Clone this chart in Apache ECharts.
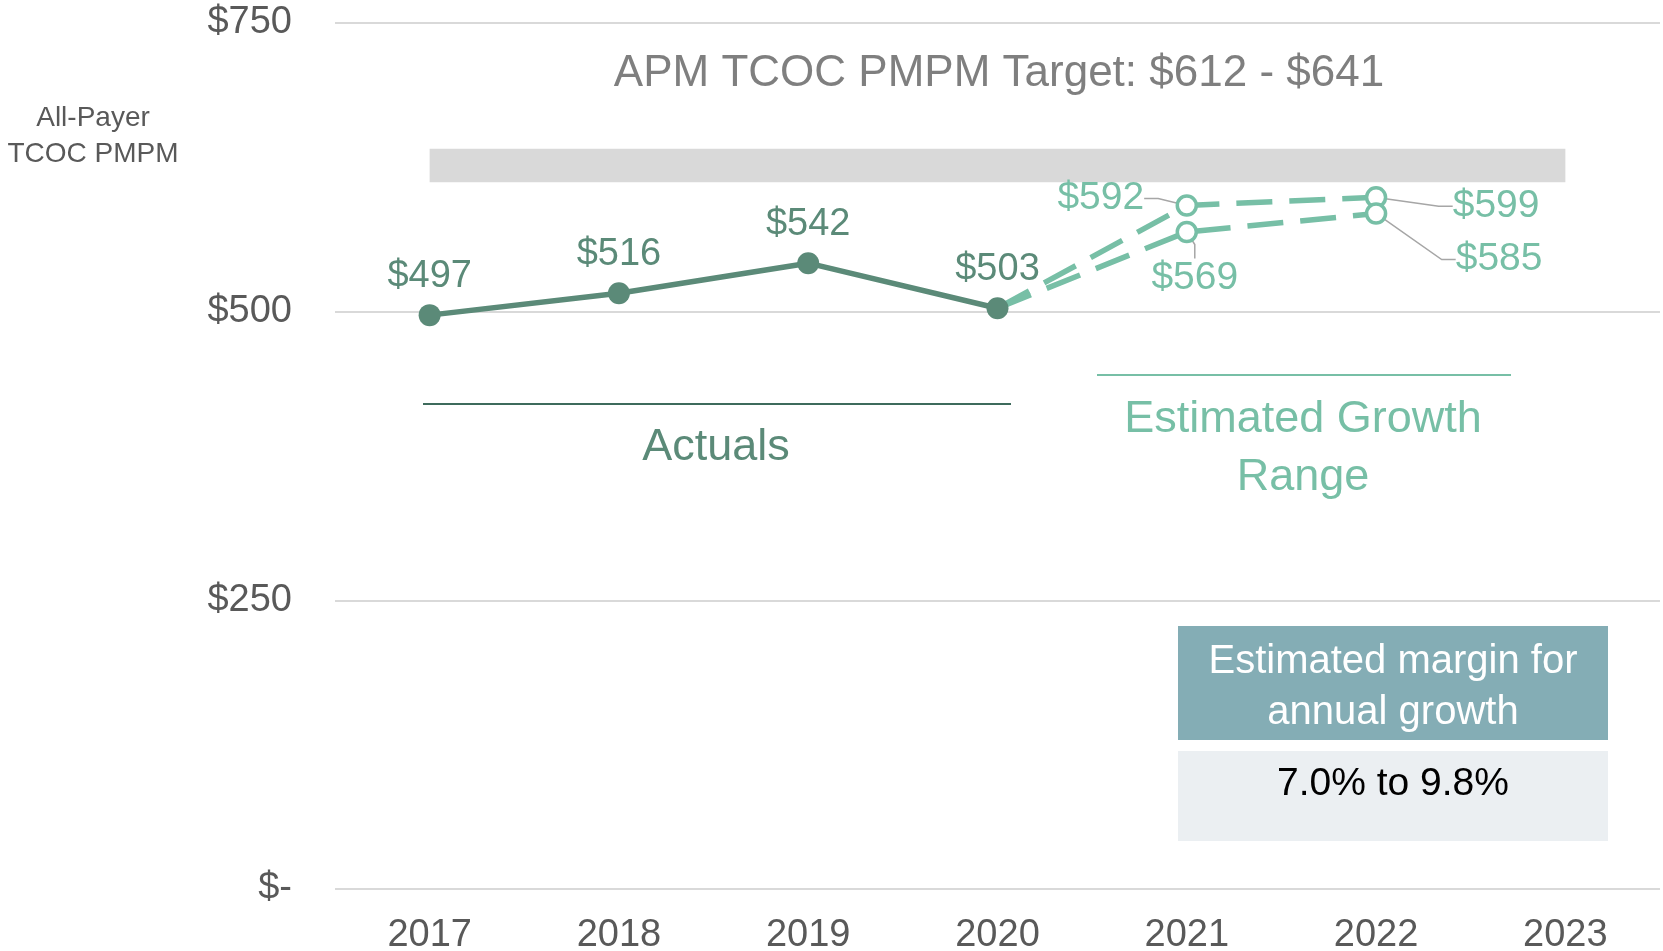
<!DOCTYPE html>
<html>
<head>
    <meta charset="utf-8">
    <title>TCOC PMPM</title>
    <script src="https://cdn.jsdelivr.net/npm/echarts@6/dist/echarts.min.js"></script>
    <style>
        html, body { margin: 0; padding: 0; background: #fff; }
        #main { width: 1663px; height: 951px; }
    </style>
</head>
<body>
    <div id="main"></div>
    <script type="text/javascript">
        // data
        var years = ['2017', '2018', '2019', '2020', '2021', '2022', '2023'];
        var actuals = [497, 516, 542, 503, '-', '-', '-'];
        var highGrowth = ['-', '-', '-', 503, 592, 599, '-'];
        var lowGrowth = ['-', '-', '-', 503, 569, 585, '-'];
        var targetRange = [612, 641];

        // label offsets for projected points [dx, dy] from the marker centre
        var highLabelOffsets = { 4: [-86, -7], 5: [120, 9] };
        var lowLabelOffsets = { 4: [8, 46], 5: [123, 46] };

        var FONT = 'Liberation Sans';
        var darkGreen = '#5B8A78';
        var lightGreen = '#77BFA6';

        var myChart = echarts.init(document.getElementById('main'));

        function projData(arr) {
            return arr.map(function (v, i) {
                if (v === '-') return v;
                if (i === 3) {
                    return { value: v, symbol: 'none', label: { show: false }, labelLine: { show: false } };
                }
                return v;
            });
        }

        function projLayout(offsets) {
            return function (params) {
                var o = offsets[params.dataIndex];
                if (!o) return {};
                var r = params.rect;
                return {
                    x: r.x + r.width / 2 + o[0],
                    y: r.y + r.height / 2 + o[1],
                    align: 'center',
                    verticalAlign: 'middle'
                };
            };
        }

        function projSeries(name, data, offsets) {
            return {
                name: name,
                type: 'line',
                data: projData(data),
                z: 2,
                symbol: 'circle',
                symbolSize: 19,
                showAllSymbol: true,
                itemStyle: { color: '#fff', borderColor: lightGreen, borderWidth: 3.5 },
                lineStyle: { color: lightGreen, width: 5.5, type: [36, 17] },
                label: {
                    show: true,
                    formatter: function (p) { return '$' + p.value; },
                    color: lightGreen,
                    fontFamily: FONT,
                    fontSize: 39
                },
                labelLine: {
                    show: true,
                    length2: 14,
                    lineStyle: { color: '#A6A6A6', width: 1.5 }
                },
                labelLayout: projLayout(offsets),
                emphasis: { disabled: true }
            };
        }

        var option = {
            animation: false,
            grid: { left: 335, right: 3, top: 23, bottom: 62, outerBoundsMode: 'none', containLabel: false },
            xAxis: {
                type: 'category',
                data: years,
                boundaryGap: true,
                axisLine: { show: false },
                axisTick: { show: false },
                axisLabel: { color: '#595959', fontSize: 38, fontFamily: FONT, margin: 28 }
            },
            yAxis: {
                type: 'value',
                min: 0,
                max: 750,
                interval: 250,
                axisLine: { show: false },
                axisTick: { show: false },
                splitLine: { lineStyle: { color: '#D9D9D9', width: 2 } },
                axisLabel: {
                    color: '#595959',
                    fontSize: 38,
                    fontFamily: FONT,
                    margin: 43,
                    formatter: function (v) { return v === 0 ? '$-' : '$' + v; }
                }
            },
            series: [
                {
                    name: 'Target',
                    type: 'line',
                    data: [],
                    markArea: {
                        silent: true,
                        itemStyle: { color: '#D9D9D9' },
                        data: [[
                            { xAxis: years[0], yAxis: targetRange[0] },
                            { xAxis: years[6], yAxis: targetRange[1] }
                        ]]
                    }
                },
                projSeries('High', highGrowth, highLabelOffsets),
                projSeries('Low', lowGrowth, lowLabelOffsets),
                {
                    name: 'Actuals',
                    type: 'line',
                    data: actuals,
                    z: 3,
                    symbol: 'circle',
                    symbolSize: 22,
                    itemStyle: { color: darkGreen },
                    lineStyle: { color: darkGreen, width: 5.5 },
                    label: {
                        show: true,
                        position: 'top',
                        distance: 9,
                        formatter: function (p) { return '$' + p.value; },
                        color: darkGreen,
                        fontFamily: FONT,
                        fontSize: 38
                    },
                    emphasis: { disabled: true }
                }
            ],
            graphic: [
                {
                    type: 'text',
                    style: {
                        text: 'APM TCOC PMPM Target: $612 - $641',
                        x: 999, y: 74, align: 'center', verticalAlign: 'middle',
                        fill: '#7F7F7F', fontSize: 44, fontFamily: FONT
                    }
                },
                {
                    type: 'text',
                    style: {
                        text: 'All-Payer\nTCOC PMPM',
                        x: 93, y: 136, align: 'center', verticalAlign: 'middle',
                        fill: '#595959', fontSize: 28, lineHeight: 36, fontFamily: FONT
                    }
                },
                {
                    type: 'line',
                    shape: { x1: 423, y1: 404, x2: 1011, y2: 404 },
                    style: { stroke: '#3E6B5C', lineWidth: 2 }
                },
                {
                    type: 'text',
                    style: {
                        text: 'Actuals',
                        x: 716, y: 448, align: 'center', verticalAlign: 'middle',
                        fill: darkGreen, fontSize: 45, fontFamily: FONT
                    }
                },
                {
                    type: 'line',
                    shape: { x1: 1097, y1: 375, x2: 1511, y2: 375 },
                    style: { stroke: lightGreen, lineWidth: 2 }
                },
                {
                    type: 'text',
                    style: {
                        text: 'Estimated Growth\nRange',
                        x: 1303, y: 449, align: 'center', verticalAlign: 'middle',
                        fill: lightGreen, fontSize: 45, lineHeight: 58, fontFamily: FONT
                    }
                },
                {
                    type: 'rect',
                    shape: { x: 1178, y: 626, width: 430, height: 114 },
                    style: { fill: '#84ADB5' }
                },
                {
                    type: 'text',
                    style: {
                        text: 'Estimated margin for\nannual growth',
                        x: 1393, y: 687, align: 'center', verticalAlign: 'middle',
                        fill: '#fff', fontSize: 40, lineHeight: 51, fontFamily: FONT
                    }
                },
                {
                    type: 'rect',
                    shape: { x: 1178, y: 751, width: 430, height: 90 },
                    style: { fill: '#EBEFF2' }
                },
                {
                    type: 'text',
                    style: {
                        text: '7.0% to 9.8%',
                        x: 1393, y: 784, align: 'center', verticalAlign: 'middle',
                        fill: '#000', fontSize: 39, fontFamily: FONT
                    }
                }
            ]
        };

        myChart.setOption(option);
    </script>
</body>
</html>
